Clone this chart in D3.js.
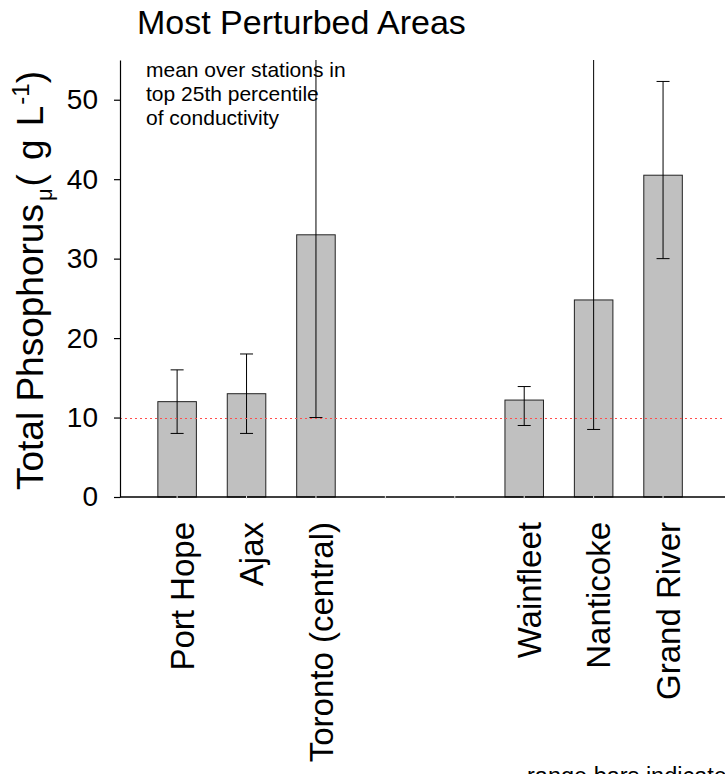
<!DOCTYPE html>
<html>
<head>
<meta charset="utf-8">
<script src="https://cdn.jsdelivr.net/npm/d3@7"></script>
<style>
  html, body { margin: 0; padding: 0; background: #fff; }
  svg { display: block; font-family: "Liberation Sans", Arial, Helvetica, sans-serif; }
</style>
</head>
<body>
<svg id="chart" width="725" height="774"></svg>
<script>
// Sites along the shore (two blank slots separate the two groups)
const sites   = ["Port Hope", "Ajax", "Toronto (central)", "", "", "Wainfleet", "Nanticoke", "Grand River"];
// Mean total phosphorus (µg/L) over the most conductive stations
const meanTP  = [12.0, 13.0, 33.0, null, null, 12.2, 24.8, 40.5];
// Range bars: minimum and maximum at those stations
const minTP   = [8.0, 8.0, 10.0, null, null, 9.0, 8.5, 30.0];
const maxTP   = [16.0, 18.0, 62.0, null, null, 13.9, 60.0, 52.3];
const yTicks  = [0, 10, 20, 30, 40, 50];
const tpGuideline = 10;   // reference level, drawn as a dotted line

const svg = d3.select("#chart");
const plot = { left: 120, right: 725, top: 60, bottom: 497 };

const x = d3.scaleBand()
  .domain(d3.range(sites.length))
  .range([plot.left, plot.right])
  .paddingInner(0.445)
  .paddingOuter(0.58)
  .align(0.47);

const y = d3.scaleLinear()
  .domain([0, 55])
  .range([plot.bottom, plot.top])
  .clamp(true);

const cx = i => x(i) + x.bandwidth() / 2;
const idx = d3.range(sites.length).filter(i => meanTP[i] !== null);

// Title
svg.append("text")
  .attr("x", 137).attr("y", 34)
  .attr("font-size", 34)
  .attr("fill", "#000")
  .text("Most Perturbed Areas");

// Bars
svg.append("g").selectAll("rect")
  .data(idx)
  .join("rect")
  .attr("x", i => x(i))
  .attr("width", x.bandwidth())
  .attr("y", i => y(meanTP[i]))
  .attr("height", i => y(0) - y(meanTP[i]))
  .attr("fill", "#c0c0c0")
  .attr("stroke", "#222")
  .attr("stroke-width", 1);

// Range bars
const capHalf = 6.5;
const eb = svg.append("g").attr("stroke", "#000").attr("stroke-width", 1);
idx.forEach(i => {
  eb.append("line")
    .attr("x1", cx(i)).attr("x2", cx(i))
    .attr("y1", y(minTP[i])).attr("y2", y(maxTP[i]));
  eb.append("line")
    .attr("x1", cx(i) - capHalf).attr("x2", cx(i) + capHalf)
    .attr("y1", y(minTP[i])).attr("y2", y(minTP[i]));
  if (maxTP[i] <= y.domain()[1]) {
    eb.append("line")
      .attr("x1", cx(i) - capHalf).attr("x2", cx(i) + capHalf)
      .attr("y1", y(maxTP[i])).attr("y2", y(maxTP[i]));
  }
});

// Dotted guideline (snapped to the pixel grid so the dots stay crisp)
const gy = Math.round(y(tpGuideline)) + 0.5;
svg.append("line")
  .attr("x1", plot.left).attr("x2", plot.right)
  .attr("y1", gy).attr("y2", gy)
  .attr("stroke", "#ff4d4d")
  .attr("stroke-width", 1)
  .attr("stroke-dasharray", "2,3");

// Y axis
const yAxis = svg.append("g")
  .attr("transform", `translate(${plot.left},0)`)
  .call(d3.axisLeft(y).tickValues(yTicks).tickSize(6).tickSizeOuter(0).tickPadding(16));
yAxis.select(".domain").attr("stroke", "#000").attr("stroke-width", 1.2);
yAxis.selectAll(".tick line").attr("stroke", "#000").attr("stroke-width", 1.2);
yAxis.selectAll(".tick text")
  .attr("font-size", 28)
  .attr("font-family", "Liberation Sans, Arial, sans-serif")
  .attr("fill", "#000");

// X axis baseline with faint tick marks at each slot
svg.append("line")
  .attr("x1", plot.left).attr("x2", plot.right)
  .attr("y1", plot.bottom).attr("y2", plot.bottom)
  .attr("stroke", "#000").attr("stroke-width", 1.3);
svg.append("g").selectAll("line")
  .data(d3.range(sites.length))
  .join("line")
  .attr("x1", cx).attr("x2", cx)
  .attr("y1", plot.bottom - 1).attr("y2", plot.bottom + 2)
  .attr("stroke", "#e8e8e8").attr("stroke-width", 1);

// Site labels, rotated
svg.append("g").selectAll("text")
  .data(idx)
  .join("text")
  .attr("transform", i => `translate(${cx(i) + 5},${plot.bottom + 25}) rotate(-90)`)
  .attr("text-anchor", "end")
  .attr("dy", "0.35em")
  .attr("font-size", 33)
  .attr("fill", "#000")
  .text(i => sites[i]);

// Y axis title
const yt = svg.append("text")
  .attr("transform", `translate(43,490) rotate(-90)`)
  .attr("font-size", 37)
  .attr("fill", "#000");
yt.append("tspan").text("Total Phsophorus");
yt.append("tspan").attr("font-size", 22).attr("dx", 3).attr("dy", 9).text("μ");
yt.append("tspan").attr("dx", 2).attr("dy", -9).text("(");
yt.append("tspan").attr("dx", 14).text("g");
yt.append("tspan").attr("dx", 3).text(" L");
yt.append("tspan").attr("font-size", 24).attr("dx", 1).attr("dy", -14).text("-1");
yt.append("tspan").attr("dy", 14).text(")");

// Annotation
const note = svg.append("text")
  .attr("font-size", 21)
  .attr("fill", "#000");
["mean over stations in", "top 25th percentile", "of conductivity"].forEach((s, k) => {
  note.append("tspan").attr("x", 146).attr("y", 77 + k * 24).text(s);
});

// Where the Toronto range bar runs through the note, it shows broken
const nb = note.node().getBBox();
const torontoIdx = sites.indexOf("Toronto (central)");
svg.insert("line", "text")
  .attr("x1", cx(torontoIdx)).attr("x2", cx(torontoIdx))
  .attr("y1", y(maxTP[torontoIdx])).attr("y2", nb.y + nb.height - 2)
  .attr("stroke", "#fff").attr("stroke-width", 1.5)
  .attr("stroke-dasharray", "2,3");

// Footnote (runs off the right edge)
svg.append("text")
  .attr("x", 527).attr("y", 784)
  .attr("font-size", 23.5)
  .attr("fill", "#000")
  .text("range bars indicate minimum and maximum");
</script>
</body>
</html>
